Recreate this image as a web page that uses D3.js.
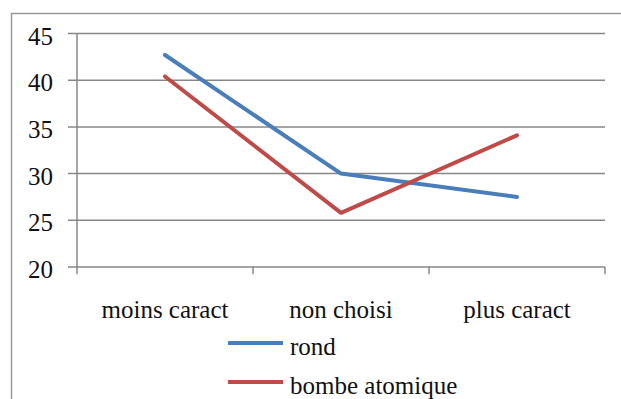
<!DOCTYPE html>
<html>
<head>
<meta charset="utf-8">
<script src="https://cdn.jsdelivr.net/npm/d3@7"></script>
<style>
  html, body { margin: 0; padding: 0; background: #fff; }
  svg { display: block; }
</style>
</head>
<body>
<svg id="chart" width="621" height="399"></svg>
<script>
// Categories and series
const categories = ["moins caract", "non choisi", "plus caract"];
const seriesNames = ["rond", "bombe atomique"];
const rond = [42.7, 30.0, 27.5];
const bombeAtomique = [40.4, 25.8, 34.1];
const yTicks = [20, 25, 30, 35, 40, 45];
const colors = ["#4A7EBB", "#BE4B48"];

const series = [
  { name: seriesNames[0], values: rond, color: colors[0] },
  { name: seriesNames[1], values: bombeAtomique, color: colors[1] }
];

// Pick the first installed Times-like serif face
function pickFont(cands) {
  const ctx = document.createElement("canvas").getContext("2d");
  const sample = "moins caract 0123456789 bombe atomique";
  ctx.font = "20px monospace";
  const base = ctx.measureText(sample).width;
  for (const c of cands) {
    ctx.font = `20px "${c}", monospace`;
    if (Math.abs(ctx.measureText(sample).width - base) > 0.5) return `"${c}"`;
  }
  return "serif";
}
const FONT = pickFont(["Liberation Serif", "Times New Roman", "Tinos", "Nimbus Roman", "DejaVu Serif", "Noto Serif"]);
const FS = 25;

const svg = d3.select("#chart");

// Outer chart frame
svg.append("rect")
  .attr("x", 11.5).attr("y", 13.5)
  .attr("width", 620).attr("height", 400)
  .attr("fill", "#fff")
  .attr("stroke", "#9a9a9a").attr("stroke-width", 1.5);

const plot = { left: 77, right: 605, top: 33.5, bottom: 267 };

const x = d3.scaleBand().domain(categories).range([plot.left, plot.right]);
const y = d3.scaleLinear().domain([20, 45]).range([plot.bottom, plot.top]);

// Horizontal gridlines with short tick marks on the left
svg.append("g").selectAll("line")
  .data(yTicks)
  .join("line")
  .attr("x1", plot.left - 9).attr("x2", plot.right)
  .attr("y1", d => y(d)).attr("y2", d => y(d))
  .attr("stroke", "#878787").attr("stroke-width", 1.5);

// Y axis line
svg.append("line")
  .attr("x1", plot.left).attr("x2", plot.left)
  .attr("y1", plot.top).attr("y2", plot.bottom)
  .attr("stroke", "#878787").attr("stroke-width", 1.5);

// Y tick labels
svg.append("g").selectAll("text")
  .data(yTicks)
  .join("text")
  .attr("x", 53)
  .attr("y", d => y(d) + 11)
  .attr("text-anchor", "end")
  .style("font-family", FONT)
  .attr("font-size", FS)
  .attr("fill", "#111")
  .text(d => d);

// X axis category ticks at band boundaries
const bounds = categories.map(c => x(c)).concat([plot.right]);
svg.append("g").selectAll("line")
  .data(bounds)
  .join("line")
  .attr("x1", d => d).attr("x2", d => d)
  .attr("y1", plot.bottom).attr("y2", plot.bottom + 7)
  .attr("stroke", "#878787").attr("stroke-width", 1.5);

// Category labels
svg.append("g").selectAll("text")
  .data(categories)
  .join("text")
  .attr("x", d => x(d) + x.bandwidth() / 2)
  .attr("y", 318)
  .attr("text-anchor", "middle")
  .style("font-family", FONT)
  .attr("font-size", FS)
  .attr("fill", "#111")
  .text(d => d);

// Series lines
const line = d3.line()
  .x((d, i) => x(categories[i]) + x.bandwidth() / 2)
  .y(d => y(d));

svg.append("g").selectAll("path")
  .data(series)
  .join("path")
  .attr("d", d => line(d.values))
  .attr("fill", "none")
  .attr("stroke", d => d.color)
  .attr("stroke-width", 4)
  .attr("stroke-linejoin", "round")
  .attr("stroke-linecap", "round");

// Legend
const legend = svg.append("g").selectAll("g")
  .data(series)
  .join("g")
  .attr("transform", (d, i) => `translate(228, ${343 + i * 39})`);
legend.append("line")
  .attr("x1", 0).attr("x2", 55)
  .attr("y1", 0).attr("y2", 0)
  .attr("stroke", d => d.color)
  .attr("stroke-width", 4);
legend.append("text")
  .attr("x", 62).attr("y", 12)
  .style("font-family", FONT)
  .attr("font-size", FS)
  .attr("fill", "#111")
  .text(d => d.name);
</script>
</body>
</html>
